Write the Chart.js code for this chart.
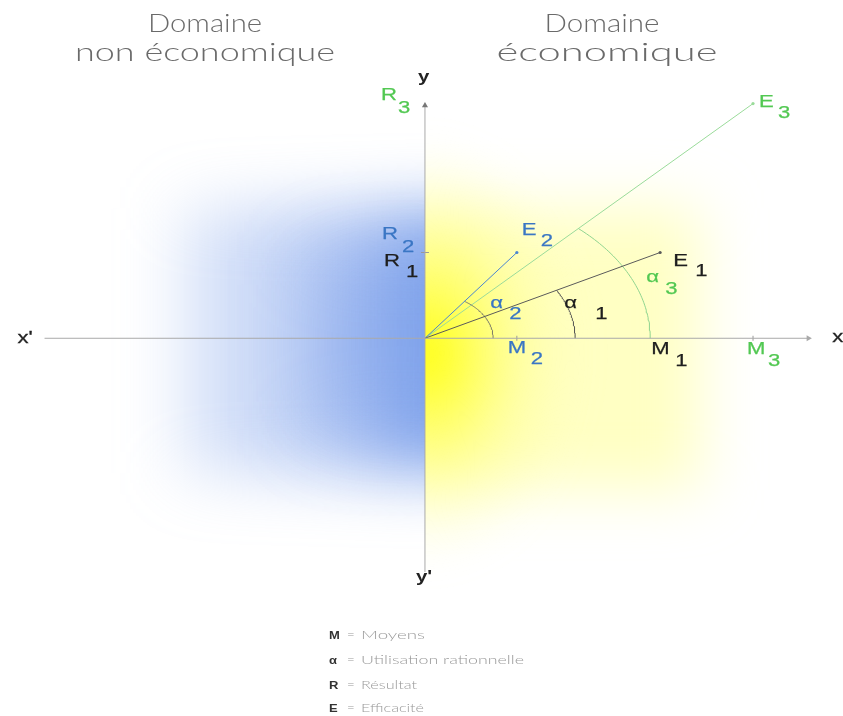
<!DOCTYPE html>
<html><head><meta charset="utf-8">
<script src="https://cdn.jsdelivr.net/npm/chart.js@4/dist/chart.umd.min.js"></script>
<style>html,body{margin:0;padding:0;background:#fff}#wrap{width:843px;height:716px;position:relative}</style>
</head><body><div id="wrap"><canvas id="c"></canvas></div>
<script>
// ---- data ----
const seriesIds = ['1', '2', '3'];
const moyens = [238, 93, 332];        // M1, M2, M3  (x)
const resultats = [87, 87, 238];      // R1, R2, R3  (y)
const alphaRadii = [152, 69, 228];    // arcs α1, α2, α3
const axisXRange = [-385, 388];
const axisYRange = [-237, 236];
const titleLeft = ['Domaine', 'non économique'];
const titleRight = ['Domaine', 'économique'];
const legendSymbols = ['M', 'α', 'R', 'E'];
const legendTexts = ['Moyens', 'Utilisation rationnelle', 'Résultat', 'Efficacité'];

// ---- styles ----
const labelColors = ['#1e1e1e', '#3a76c4', '#52c852'];
const lineColors = ['#5a5a5a', '#4a85d0', '#9adb9a'];
const arcColors = ['#505050', '#7a7a6a', '#8fd48f'];
const axisColor = '#a9a9a9';
const ELLIPSE_K = 1.5;

function arcPoints(rx, vx, vy) {
  const ry = rx / ELLIPSE_K;
  const tEnd = Math.atan(ELLIPSE_K * vy / vx);
  const pts = [];
  const n = 48;
  for (let j = 0; j <= n; j++) {
    const t = tEnd * j / n;
    pts.push({x: rx * Math.cos(t), y: ry * Math.sin(t)});
  }
  return pts;
}

const datasets = [];
datasets.push({data: [{x: axisXRange[0], y: 0}, {x: axisXRange[1], y: 0}], showLine: true,
  borderColor: axisColor, borderWidth: 1, pointRadius: [0, 3.5], pointStyle: 'triangle', rotation: [0, 90],
  pointBackgroundColor: axisColor, pointBorderColor: axisColor, pointBorderWidth: 0});
datasets.push({data: [{x: 0, y: axisYRange[0]}, {x: 0, y: axisYRange[1]}], showLine: true,
  borderColor: axisColor, borderWidth: 1, pointRadius: [0, 3.5], pointStyle: 'triangle', rotation: [0, 0],
  pointBackgroundColor: '#777', pointBorderColor: '#777', pointBorderWidth: 0});
seriesIds.forEach((id, i) => {
  datasets.push({data: [{x: 0, y: 0}, {x: moyens[i], y: resultats[i]}], showLine: true,
    borderColor: lineColors[i], borderWidth: 1, pointRadius: [0, 1.6], pointBackgroundColor: lineColors[i],
    pointBorderWidth: 0});
  datasets.push({data: arcPoints(alphaRadii[i], moyens[i], resultats[i]), showLine: true,
    borderColor: arcColors[i], borderWidth: 1, pointRadius: 0, tension: 0});
});
datasets.push({data: moyens.filter((m, i) => i !== 0).map(m => ({x: m, y: 0})), showLine: false,
  pointStyle: 'line', rotation: 90, pointRadius: 2.5, borderColor: '#999', pointBorderWidth: 1});
datasets.push({data: [{x: 0, y: resultats[1]}], showLine: false,
  pointStyle: 'line', rotation: 0, pointRadius: 4, borderColor: '#999', pointBorderWidth: 1});

// label offsets (px) : [mainDx, mainDy, subDx, subDy]
const offE = [[13, 14, 35, 24], [5, -17, 24, -6], [6, 3, 25, 14]];
const offR = [[-41, 14, -19, 25], [-43, -13, -23, 0], [-44, -4, -27, 9]];
const offM = [[-9, 16, 15, 28], [-9, 15, 14, 26], [-6, 16, 15, 28]];
const offA = [[-11, -30, 20, -19], [-3, -30, 16, -19], [-4, -56, 15, -44]];

function drawText(ctx, text, x, y, font, color, sx, align, stroke) {
  ctx.save();
  ctx.font = font; ctx.fillStyle = color; ctx.textAlign = align || 'left'; ctx.textBaseline = 'alphabetic';
  ctx.translate(x, y); ctx.scale(sx, 1); ctx.fillText(text, 0, 0);
  if (stroke) { ctx.strokeStyle = color; ctx.lineWidth = stroke; ctx.strokeText(text, 0, 0); }
  ctx.restore();
}
function fitText(ctx, text, x, y, font, color, width, align) {
  ctx.save(); ctx.font = font; const w = ctx.measureText(text).width; ctx.restore();
  drawText(ctx, text, x, y, font, color, width / w, align);
}

const bgPlugin = {
  id: 'bg',
  beforeDatasetsDraw(chart) {
    const ctx = chart.ctx, sx = chart.scales.x, sy = chart.scales.y;
    const ox = sx.getPixelForValue(0), oy = sy.getPixelForValue(0);
    const W = chart.width, H = chart.height;
    // blue (non economic)
    ctx.save();
    ctx.beginPath(); ctx.rect(0, 0, ox, H); ctx.clip();
    ctx.filter = 'blur(32px)';
    const g = ctx.createLinearGradient(ox - 250, 0, ox, 0);
    g.addColorStop(0, 'rgba(130,165,235,0.25)');
    g.addColorStop(0.45, 'rgba(125,160,235,0.45)');
    g.addColorStop(0.8, 'rgba(118,155,234,0.65)');
    g.addColorStop(1, 'rgba(110,150,232,0.85)');
    ctx.fillStyle = g;
    ctx.fillRect(ox - 245, oy - 130, 320, 265);
    ctx.filter = 'blur(40px)';
    ctx.fillStyle = 'rgba(110,150,232,0.35)';
    ctx.fillRect(ox - 110, oy - 80, 170, 170);
    ctx.restore();
    // yellow (economic)
    ctx.save();
    ctx.beginPath(); ctx.rect(ox, 0, W - ox, H); ctx.clip();
    ctx.filter = 'blur(30px)';
    ctx.fillStyle = 'rgba(255,255,175,0.75)';
    ctx.fillRect(ox - 40, oy - 130, 315, 282);
    ctx.filter = 'blur(16px)';
    ctx.translate(ox, oy + 15);
    ctx.scale(1, 1.35);
    const r = ctx.createRadialGradient(0, 0, 0, 0, 0, 160);
    r.addColorStop(0, 'rgba(255,255,0,0.95)');
    r.addColorStop(0.3, 'rgba(255,255,40,0.65)');
    r.addColorStop(0.65, 'rgba(255,255,110,0.28)');
    r.addColorStop(1, 'rgba(255,255,160,0)');
    ctx.fillStyle = r;
    ctx.beginPath(); ctx.arc(0, 0, 170, 0, Math.PI * 2); ctx.fill();
    ctx.restore();
  }
};

const textPlugin = {
  id: 'texts',
  afterDatasetsDraw(chart) {
    const ctx = chart.ctx, sx = chart.scales.x, sy = chart.scales.y;
    const px = v => sx.getPixelForValue(v), py = v => sy.getPixelForValue(v);
    const F = '17px "Liberation Sans", Arial, sans-serif';
    const S = 1.3;
    function lab(main, sub, ax, ay, o, color) {
      drawText(ctx, main, ax + o[0], ay + o[1], F, color, S, 'left', 0.25);
      drawText(ctx, sub, ax + o[2], ay + o[3], F, color, S, 'left', 0.25);
    }
    seriesIds.forEach((id, i) => {
      const c = labelColors[i];
      lab('E', id, px(moyens[i]), py(resultats[i]), offE[i], c);
      lab('R', id, px(0), py(resultats[i]), offR[i], c);
      lab('M', id, px(moyens[i]), py(0), offM[i], c);
      lab('α', id, px(alphaRadii[i]), py(0), offA[i], c);
    });
    // axis names
    const ac = '#222';
    drawText(ctx, "x'", px(axisXRange[0]) - 27, py(0) + 5, F, ac, 1.3, 'left', 0.3);
    drawText(ctx, 'x', px(axisXRange[1]) + 24, py(0) + 4, F, ac, 1.3, 'left', 0.3);
    drawText(ctx, 'y', px(0) - 7, py(axisYRange[1]) - 24, 'bold ' + F, ac, 1.2);
    drawText(ctx, "y'", px(0) - 9, py(axisYRange[0]) + 10, 'bold ' + F, ac, 1.2);
    // titles
    const TF = '300 26px Lato, "Open Sans", sans-serif', TC = '#6a6a6a';
    fitText(ctx, titleLeft[0], 205, 32, TF, TC, 114, 'center');
    fitText(ctx, titleLeft[1], 205, 61, TF, TC, 260, 'center');
    fitText(ctx, titleRight[0], 602, 32, TF, TC, 115, 'center');
    fitText(ctx, titleRight[1], 607, 61, TF, TC, 221, 'center');
    // legend
    const LF = '300 11px Lato, "Open Sans", sans-serif', LC = '#9a9a9a';
    const SF = 'bold 10px "Liberation Sans", Arial, sans-serif';
    const legY = [639, 664, 689, 712];
    const legW = [64, 163, 56, 63];
    legendTexts.forEach((t, i) => {
      drawText(ctx, legendSymbols[i], 329, legY[i], SF, '#333', 1.3);
      drawText(ctx, '=', 347, legY[i], LF, LC, 1.2);
      fitText(ctx, t, 361, legY[i], LF, LC, legW[i], 'left');
    });
  }
};

new Chart(document.getElementById('c'), {
  type: 'scatter',
  data: {datasets},
  options: {
    responsive: true, maintainAspectRatio: false, animation: false,
    layout: {padding: 0},
    plugins: {legend: {display: false}, tooltip: {enabled: false}, title: {display: false}},
    elements: {line: {tension: 0}},
    scales: {
      x: {type: 'linear', min: -425, max: 418, display: false},
      y: {type: 'linear', min: -378, max: 338, display: false}
    }
  },
  plugins: [bgPlugin, textPlugin]
});
</script>
</body></html>
